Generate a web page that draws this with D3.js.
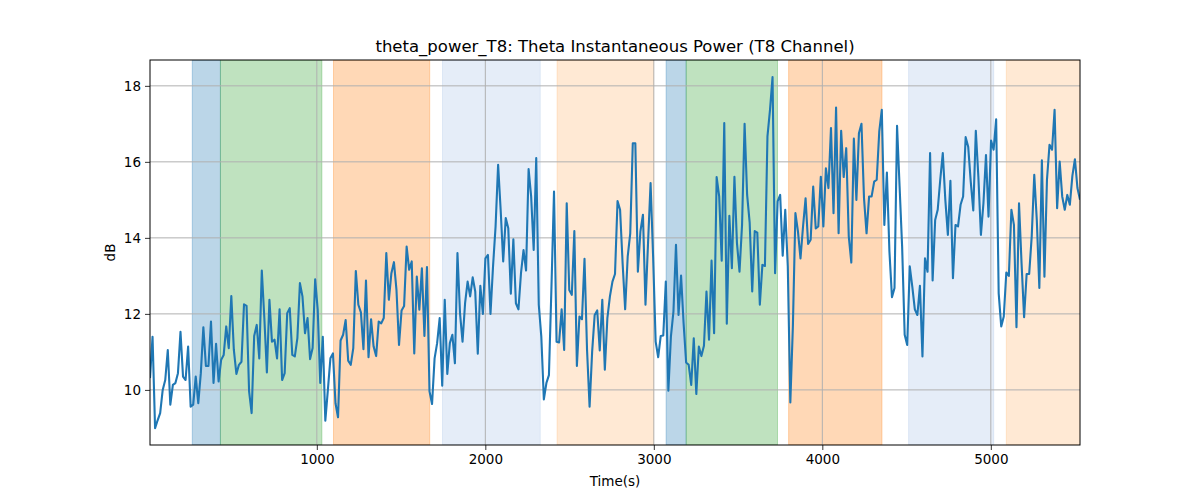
<!DOCTYPE html>
<html>
<head>
<meta charset="utf-8">
<script src="https://cdn.jsdelivr.net/npm/d3@7"></script>
<style>
  body { margin: 0; background: #fff; }
  text { font-family: "DejaVu Sans", sans-serif; fill: #000; }
</style>
</head>
<body>
<div id="chart"></div>
<script>
"use strict";

// sampling of the power series
var tStart = 10;
var tStep = 15.08;

// theta power values (dB)
var power = [
  10.31, 11.40, 8.99, 9.2, 9.39, 10.0, 10.26, 11.05, 9.61, 10.13, 10.18, 10.44, 11.53, 10.35, 10.26, 11.14, 9.56, 9.61, 10.35, 9.65,
  10.44, 11.65, 10.63, 10.63, 11.80, 10.18, 11.21, 10.22, 10.79, 10.92, 11.67, 11.10, 12.47, 11.05, 10.42, 10.66, 10.74, 12.25, 12.21, 9.96,
  9.39, 11.42, 11.71, 10.83, 13.14, 11.89, 10.46, 12.37, 11.27, 11.32, 10.83, 12.12, 10.26, 10.44, 12.02, 12.15, 10.92, 10.88, 11.36, 12.81,
  12.46,
  11.49, 11.89, 10.81, 11.10, 12.91, 12.11, 10.18, 11.40, 9.19, 10.0, 10.83, 10.96, 9.65, 9.28, 11.30, 11.45, 11.84, 10.77, 10.66, 11.10,
  13.13, 12.24, 12.04, 11.07, 12.88, 10.86, 11.86, 11.14, 10.89, 11.80, 11.75, 11.89, 13.60, 12.37, 13.07, 13.36, 12.63, 11.18, 12.09, 12.21,
  13.77, 13.16, 13.38, 10.96, 12.98, 12.11, 13.20, 11.42, 13.23, 9.96, 9.63, 10.83, 11.23, 11.89, 10.11, 12.37, 10.42, 11.23, 11.45, 10.70,
  13.60,
  12.02, 11.27, 12.28, 12.85, 12.46, 12.96, 12.59, 10.95, 12.74, 12.0, 13.46, 13.55, 12.0, 13.25, 14.30, 15.92, 14.74, 13.38, 14.52, 14.25,
  12.53, 13.96, 12.28, 12.12, 13.07, 13.68, 13.14, 15.81, 15.09, 13.68, 16.10, 12.24, 11.40, 9.75, 10.18, 10.39, 12.72, 15.22, 11.27, 11.25,
  12.12, 11.05, 14.91, 12.63, 12.50, 14.18, 10.63, 11.93, 11.86, 13.45, 11.05, 9.56, 11.0, 11.97, 12.09, 11.04, 12.37, 10.53, 11.89, 12.46,
  12.85,
  13.05, 14.97, 14.74, 13.33, 12.12, 13.51, 14.12, 16.49, 16.49, 13.11, 14.17, 14.61, 12.24, 13.86, 15.44, 13.51, 11.27, 10.86, 11.42, 11.43,
  12.85, 9.98, 11.40, 12.06, 13.82, 11.97, 13.01, 11.75, 10.72, 10.66, 10.13, 11.36, 9.89, 11.14, 10.89, 11.16, 12.59, 11.32, 13.40, 11.49,
  15.60, 15.09, 13.40, 17.02, 11.74, 14.58, 13.20, 15.61, 13.86, 13.11, 14.34, 17.0, 15.13, 14.40, 12.59, 14.18, 14.14, 12.24, 13.29, 13.26,
  16.67,
  17.37, 18.23, 13.07, 14.96, 15.13, 13.53, 14.74, 13.25, 9.67, 11.67, 14.65, 14.17, 13.46, 14.30, 15.04, 13.84, 13.95, 15.35, 14.25, 14.30,
  15.61, 14.30, 15.83, 15.31, 16.89, 14.65, 17.43, 14.12, 16.82, 15.60, 16.36, 14.04, 13.35, 16.61, 15.0, 16.75, 17.0, 15.04, 14.12, 15.09,
  15.09, 15.48, 15.53, 16.80, 17.37, 14.34, 15.72, 13.64, 12.44, 12.68, 16.95, 15.35, 13.77, 11.45, 11.18, 13.25, 12.72, 12.12, 11.97, 12.74,
  10.88, 13.46,
  13.11, 16.23, 12.88, 14.47, 14.74, 15.53, 16.23, 15.0, 14.08, 15.50, 12.94, 14.34, 14.30, 14.87, 15.09, 16.65, 16.40, 15.48, 14.72, 16.82,
  15.61, 14.08, 14.91, 16.18, 14.56, 16.56, 16.32, 17.12, 12.54, 11.67, 11.93, 13.09, 13.0, 14.74, 14.34, 11.65, 14.91, 13.33, 11.91, 13.05,
  13.05, 14.04, 15.66, 14.47, 12.68, 16.04, 12.98, 15.53, 16.45, 16.32, 17.37, 14.78, 16.01, 15.09, 14.74, 15.13, 14.87, 15.63, 16.07, 15.31,
  15.0
];

// shaded intervals (s) and their kind
var spanStart = [261, 428, 1099, 1746, 2426, 3073, 3192, 3800, 4512, 5092];
var spanEnd   = [428, 1030, 1670, 2326, 2998, 3192, 3734, 4354, 5017, 5540];
var spanKind  = ["blue", "green", "orange", "lightblue", "lightorange", "blue", "green", "orange", "lightblue", "lightorange"];

var xTicks = [1000, 2000, 3000, 4000, 5000];
var yTicks = [10, 12, 14, 16, 18];

var spanColor = {
  blue: "rgba(31,119,180,0.3)",
  green: "rgba(44,160,44,0.3)",
  orange: "rgba(255,127,14,0.3)",
  lightblue: "rgba(174,199,232,0.32)",
  lightorange: "rgba(255,187,120,0.32)"
};

var width = 1200, height = 500;
var margin = { left: 150, right: 120, top: 60, bottom: 55 };

var svg = d3.select("#chart").append("svg").attr("width", width).attr("height", height);

var x = d3.scaleLinear().domain([tStart, tStart + tStep * (power.length - 1)]).range([margin.left, width - margin.right]);
var y = d3.scaleLinear().domain([8.55, 18.68]).range([height - margin.bottom, margin.top]);

var plot = svg.append("g");

// clip to the axes area
svg.append("clipPath").attr("id", "clip").append("rect")
  .attr("x", margin.left).attr("y", margin.top)
  .attr("width", width - margin.left - margin.right).attr("height", height - margin.top - margin.bottom);

// spans
plot.append("g").attr("clip-path", "url(#clip)").selectAll("rect").data(spanStart).enter().append("rect")
  .attr("x", function (d) { return x(d); })
  .attr("width", function (d, i) { return x(spanEnd[i]) - x(d); })
  .attr("y", margin.top).attr("height", height - margin.top - margin.bottom)
  .style("fill", function (d, i) { return spanColor[spanKind[i]]; })
  .style("stroke", function (d, i) { return spanColor[spanKind[i]]; })
  .style("stroke-width", 1);

// grid
plot.append("g").selectAll("line").data(xTicks).enter().append("line")
  .attr("x1", function (d) { return x(d); }).attr("x2", function (d) { return x(d); })
  .attr("y1", margin.top).attr("y2", height - margin.bottom)
  .style("stroke", "#b0b0b0").style("stroke-width", 1);
plot.append("g").selectAll("line").data(yTicks).enter().append("line")
  .attr("y1", function (d) { return y(d); }).attr("y2", function (d) { return y(d); })
  .attr("x1", margin.left).attr("x2", width - margin.right)
  .style("stroke", "#b0b0b0").style("stroke-width", 1);

// power line
var line = d3.line()
  .x(function (d, i) { return x(tStart + tStep * i); })
  .y(function (d) { return y(d); });
plot.append("path").datum(power).attr("clip-path", "url(#clip)")
  .attr("d", line)
  .style("fill", "none").style("stroke", "#1f77b4").style("stroke-width", 2.1)
  .style("stroke-linejoin", "round");

// axes
var xAxis = svg.append("g").attr("transform", "translate(0," + (height - margin.bottom) + ")")
  .call(d3.axisBottom(x).tickValues(xTicks).tickSize(5).tickPadding(4).tickFormat(d3.format("d")));
var yAxis = svg.append("g").attr("transform", "translate(" + margin.left + ",0)")
  .call(d3.axisLeft(y).tickValues(yTicks).tickSize(5).tickPadding(4).tickFormat(d3.format("d")));
[xAxis, yAxis].forEach(function (a) {
  a.select(".domain").remove();
  a.selectAll("text").style("font-size", "13.5px").style("font-family", "DejaVu Sans, sans-serif").attr("fill", "#000");
  a.selectAll("line").style("stroke", "#000").style("stroke-width", 0.8);
});

// frame
svg.append("rect").attr("x", margin.left).attr("y", margin.top)
  .attr("width", width - margin.left - margin.right).attr("height", height - margin.top - margin.bottom)
  .style("fill", "none").style("stroke", "#000").style("stroke-width", 1);

// labels
svg.append("text").attr("x", (margin.left + width - margin.right) / 2).attr("y", 52)
  .attr("text-anchor", "middle").style("font-size", "16.5px")
  .text("theta_power_T8: Theta Instantaneous Power (T8 Channel)");
svg.append("text").attr("x", (margin.left + width - margin.right) / 2).attr("y", 486)
  .attr("text-anchor", "middle").style("font-size", "13.5px").text("Time(s)");
svg.append("text").attr("transform", "translate(115," + ((margin.top + height - margin.bottom) / 2) + ") rotate(-90)")
  .attr("text-anchor", "middle").style("font-size", "13.5px").text("dB");
</script>
</body>
</html>
